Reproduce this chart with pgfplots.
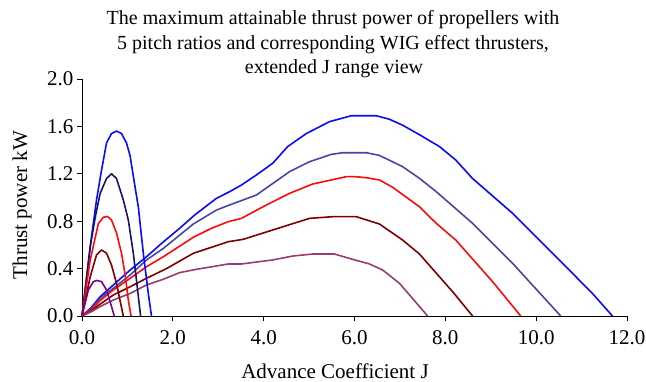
\documentclass[border=0pt]{standalone}
\usepackage{pgfplots}
\pgfplotsset{compat=1.18}
\usepackage{fontspec}
\setmainfont{Liberation Serif}
\definecolor{cblue}{RGB}{10,10,255}
\definecolor{cnavy}{RGB}{20,20,110}
\definecolor{cslate}{RGB}{70,70,165}
\definecolor{cred}{RGB}{255,10,10}
\definecolor{cdred}{RGB}{125,0,0}
\definecolor{cpurple}{RGB}{125,0,130}
\definecolor{cmauve}{RGB}{150,60,115}
\begin{document}
\begin{tikzpicture}
\begin{axis}[
  at={(0,0)}, anchor=south west,
  scale only axis, width=545bp, height=237bp,
  xmin=0, xmax=12, ymin=0, ymax=2,
  axis lines*=left,
  axis line style={line width=0.8bp, black},
  tick align=outside,
  major tick length=5bp,
  tick style={line width=0.8bp, black},
  xtick={0,2,4,6,8,10,12},
  ytick={0,0.4,0.8,1.2,1.6,2.0},
  /pgf/number format/assume math mode=true,
  xticklabel style={yshift=-6bp, /pgf/number format/.cd, fixed, fixed zerofill, precision=1},
  yticklabel style={/pgf/number format/.cd, fixed, fixed zerofill, precision=1},
  tick label style={font=\fontsize{21bp}{25bp}\selectfont},
  label style={font=\fontsize{21bp}{25bp}\selectfont},
  xlabel={Advance Coefficient J},
  xlabel style={at={(axis description cs:0.4642,-0.2616)}, anchor=base},
  ylabel={Thrust power kW},
  ylabel style={at={(axis description cs:-0.110,0.468)}, anchor=center},
  every axis plot/.append style={line width=1.6bp, line join=round},
  clip=false,
]
% large curves
\addplot[cblue] coordinates {(0,0) (0.2,0.07) (0.40,0.163) (0.69,0.262) (1.06,0.388) (1.42,0.50) (1.79,0.625) (2.15,0.74) (2.48,0.852) (2.96,0.993) (3.25,1.049) (3.51,1.105) (3.84,1.19) (4.20,1.289) (4.53,1.43) (4.94,1.54) (5.45,1.64) (5.93,1.69) (6.48,1.69) (6.77,1.66) (7.06,1.61) (7.43,1.53) (7.87,1.43) (8.23,1.316) (8.60,1.16) (9.48,0.867) (10.36,0.53) (11.24,0.19) (11.68,0)};
\addplot[cslate] coordinates {(0,0) (0.2,0.06) (0.40,0.15) (0.69,0.234) (1.06,0.346) (1.42,0.473) (1.79,0.57) (2.45,0.776) (2.96,0.894) (3.25,0.937) (3.84,1.021) (4.57,1.218) (5.01,1.302) (5.49,1.364) (5.74,1.378) (6.26,1.378) (6.55,1.355) (7.06,1.26) (7.43,1.162) (7.80,1.049) (8.60,0.782) (9.48,0.445) (10.54,0)};
\addplot[cred] coordinates {(0,0) (0.2,0.05) (0.40,0.13) (0.69,0.22) (1.06,0.318) (1.42,0.416) (1.79,0.50) (2.45,0.664) (2.85,0.74) (3.22,0.796) (3.51,0.824) (4.06,0.937) (4.57,1.035) (5.08,1.114) (5.49,1.148) (5.82,1.176) (6.0,1.176) (6.26,1.167) (6.55,1.148) (6.84,1.086) (7.43,0.922) (7.80,0.782) (8.23,0.641) (9.04,0.29) (9.66,0)};
\addplot[cdred] coordinates {(0,0) (0.2,0.04) (0.40,0.10) (0.69,0.177) (1.06,0.247) (1.42,0.318) (1.86,0.40) (2.45,0.529) (3.22,0.627) (3.55,0.647) (4.20,0.726) (5.01,0.824) (5.52,0.838) (6.04,0.838) (6.55,0.776) (7.06,0.641) (7.43,0.523) (8.16,0.205) (8.60,0)};
\addplot[cmauve] coordinates {(0,0) (0.2,0.035) (0.40,0.08) (0.69,0.135) (1.06,0.19) (1.42,0.262) (1.79,0.31) (2.15,0.366) (2.52,0.394) (3.22,0.439) (3.51,0.439) (4.20,0.473) (4.64,0.506) (5.08,0.523) (5.56,0.523) (5.96,0.478) (6.33,0.439) (6.62,0.388) (6.99,0.276) (7.61,0)};
% small curves
\addplot[cblue] coordinates {(0,0) (0.1,0.32) (0.21,0.67) (0.32,0.98) (0.43,1.23) (0.54,1.46) (0.65,1.54) (0.76,1.56) (0.87,1.54) (0.98,1.46) (1.06,1.35) (1.13,1.18) (1.24,0.92) (1.35,0.53) (1.46,0.19) (1.53,0)};
\addplot[cnavy] coordinates {(0,0) (0.18,0.585) (0.30,0.85) (0.40,1.035) (0.54,1.16) (0.65,1.20) (0.76,1.16) (0.91,0.98) (1.02,0.81) (1.13,0.53) (1.20,0.30) (1.29,0)};
\addplot[cred] coordinates {(0,0) (0.18,0.47) (0.36,0.78) (0.47,0.833) (0.56,0.84) (0.65,0.81) (0.76,0.70) (0.87,0.53) (0.945,0.36) (1.02,0.135) (1.08,0)};
\addplot[cdred] coordinates {(0,0) (0.18,0.33) (0.32,0.515) (0.43,0.557) (0.54,0.53) (0.65,0.43) (0.76,0.276) (0.835,0.135) (0.91,0)};
\addplot[cpurple] coordinates {(0,0) (0.14,0.22) (0.25,0.29) (0.32,0.30) (0.43,0.29) (0.54,0.22) (0.63,0.107) (0.71,0)};
\end{axis}
\pgfresetboundingbox
\path[use as bounding box] (-82bp,-66bp) rectangle (564bp,316bp);
\begin{scope}[every node/.style={font=\fontsize{20bp}{24bp}\selectfont, inner sep=0pt}]
\node[anchor=base] at (251bp,291bp) {The maximum attainable thrust power of propellers with};
\node[anchor=base] at (251bp,266bp) {5 pitch ratios and corresponding WIG effect thrusters,};
\node[anchor=base] at (252bp,242bp) {extended J range view};
\end{scope}
\end{tikzpicture}
\end{document}
